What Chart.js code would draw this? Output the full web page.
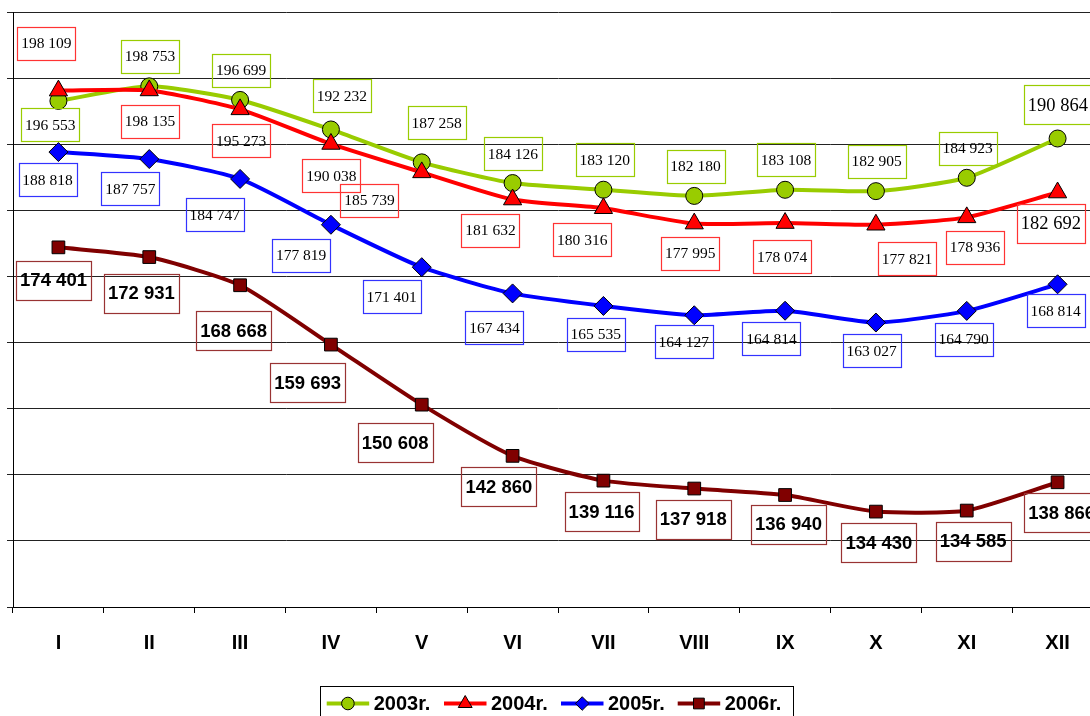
<!DOCTYPE html>
<html><head><meta charset="utf-8">
<script src="https://cdn.jsdelivr.net/npm/chart.js@4.4.1/dist/chart.umd.min.js"></script>
<style>
html,body{margin:0;padding:0;background:#fff;overflow:hidden;}
#wrap{width:1090px;height:716px;overflow:hidden;position:relative;}
#inner{width:1103px;height:716px;position:absolute;left:0;top:0;}
</style></head><body>
<div id="wrap"><div id="inner"><canvas id="c"></canvas></div></div>
<script>
// ---- data ----
const months = ['I','II','III','IV','V','VI','VII','VIII','IX','X','XI','XII'];
const seriesNames = ['2003r.','2004r.','2005r.','2006r.'];
const values2003 = [196553,198753,196699,192232,187258,184126,183120,182180,183108,182905,184923,190864];
const values2004 = [198109,198135,195273,190038,185739,181632,180316,177995,178074,177821,178936,182692];
const values2005 = [188818,187757,184747,177819,171401,167434,165535,164127,164814,163027,164790,168814];
const values2006 = [174401,172931,168668,159693,150608,142860,139116,137918,136940,134430,134585,138866];
const yMin = 120000, yMax = 210000, yStep = 10000;

// ---- styling / label placement (not data) ----
const lineColors = ['#99CC00','#FF0000','#0000FF','#800000'];
const boxColors  = ['#99CC00','#FF3333','#3333FF','#993333'];
const pointStyles = ['circle','triangle','rectRot','rect'];
const pointRadii = [8.5,10.5,9.5,9];
const legendRadii = [6.3,8,6.8,7.6];
const labelOffsets = [
  [[-8.2,24],[0.8,-30.2],[1,-29.7],[10.9,-34],[14.9,-39.75],[0.3,-29.4],[1.3,-29.8],[1.3,-29.55],[0.9,-29.9],[0.7,-29.8],[0.9,-29.7],[0.3,-33.6]],
  [[-12.1,-47.45],[0.8,30.7],[1,31.3],[0.5,31.7],[-52.3,28],[-22.1,30.6],[-21.2,31.3],[-4,29.75],[-3,33.5],[31.1,34.1],[8.3,29.8],[-6.7,30.5]],
  [[-10.9,27.4],[-18.9,29.55],[-25.3,35.6],[-29.8,30.3],[-30.1,29.3],[-18.1,34.2],[-7.7,28.1],[-10.5,26.7],[-13.6,28.2],[-4.3,28.4],[-3.1,28.2],[-1.9,26.3]],
  [[-4.9,32.8],[-7.9,36.2],[-6.5,45.5],[-23.3,37.85],[-26.6,37.8],[-13.7,31],[-1.9,30.8],[-1,30.6],[3.4,29.1],[2.9,31],[6.4,30.7],[4,30.3]]
];
const bigLabels = [[11],[11],[],[]];

function fmt(v){ return String(v).replace(/\B(?=(\d{3})+(?!\d))/g,' '); }

const allValues = [values2003, values2004, values2005, values2006];

const labelPlugin = {
  id:'boxLabels',
  afterDatasetsDraw(chart){
    const ctx = chart.ctx;
    ctx.save();
    chart.data.datasets.forEach((ds,di)=>{
      const meta = chart.getDatasetMeta(di);
      meta.data.forEach((pt,i)=>{
        const off = labelOffsets[di][i];
        const big = bigLabels[di].includes(i);
        const size = (di===3 || big) ? 18.5 : 15.5;
        ctx.font = di===3 ? `bold ${size}px "Liberation Sans", Arial, sans-serif`
                          : `${size}px "Liberation Serif", "Times New Roman", serif`;
        const text = fmt(ds.data[i]);
        const w = Math.round(ctx.measureText(text).width + 8);
        const h = Math.round(size*2.1);
        const cx = pt.x + off[0], cy = pt.y + off[1];
        ctx.strokeStyle = boxColors[di];
        ctx.lineWidth = 1.2;
        ctx.strokeRect(Math.round(cx - w/2)+0.5, Math.round(cy - h/2)+0.5, w, h);
        ctx.fillStyle = '#000';
        ctx.textAlign = 'center';
        ctx.textBaseline = 'middle';
        ctx.fillText(text, cx, cy + 1);
      });
    });
    ctx.restore();
  }
};

function drawMarker(ctx, style, r, x, y){
  if (Chart.helpers && Chart.helpers.drawPoint){
    Chart.helpers.drawPoint(ctx, {pointStyle: style, radius: r, rotation: 0, borderWidth: 1}, x, y);
    return;
  }
  ctx.beginPath();
  if (style==='circle'){ ctx.arc(x,y,r,0,Math.PI*2); }
  else if (style==='triangle'){ ctx.moveTo(x, y-r); ctx.lineTo(x+r*0.866, y+r/2); ctx.lineTo(x-r*0.866, y+r/2); ctx.closePath(); }
  else if (style==='rectRot'){ ctx.moveTo(x, y-r); ctx.lineTo(x+r, y); ctx.lineTo(x, y+r); ctx.lineTo(x-r, y); ctx.closePath(); }
  else { const s=r*Math.SQRT1_2; ctx.rect(x-s,y-s,2*s,2*s); }
  ctx.fill(); ctx.stroke();
}

const legendPlugin = {
  id:'boxLegend',
  afterDraw(chart){
    const ctx = chart.ctx;
    ctx.save();
    ctx.strokeStyle = '#000'; ctx.lineWidth = 1;
    ctx.strokeRect(320.5, 686.5, 473, 40);
    const starts = [326.7, 444, 561, 677.7];
    const ly = 703.5;
    seriesNames.forEach((name,i)=>{
      const x0 = starts[i];
      ctx.strokeStyle = lineColors[i]; ctx.lineWidth = 4;
      ctx.beginPath(); ctx.moveTo(x0, ly); ctx.lineTo(x0+42.5, ly); ctx.stroke();
      ctx.fillStyle = lineColors[i]; ctx.strokeStyle = '#000'; ctx.lineWidth = 1;
      drawMarker(ctx, pointStyles[i], legendRadii[i], x0+21.2, ly);
      ctx.fillStyle = '#000';
      ctx.font = 'bold 20px "Liberation Sans", Arial, sans-serif';
      ctx.textAlign = 'left'; ctx.textBaseline = 'middle';
      ctx.fillText(name, x0+47, ly+1);
    });
    ctx.restore();
  }
};

const datasets = allValues.map((vals,i)=>({
  label: seriesNames[i],
  data: vals,
  borderColor: lineColors[i],
  backgroundColor: lineColors[i],
  borderWidth: 4,
  pointStyle: pointStyles[i],
  pointRadius: pointRadii[i],
  pointHoverRadius: pointRadii[i],
  pointBackgroundColor: lineColors[i],
  pointBorderColor: '#000',
  pointBorderWidth: 1,
  tension: 0.2,
  fill: false,
  clip: false,
  order: 4 - i
}));

new Chart(document.getElementById('c'), {
  type: 'line',
  data: { labels: months, datasets },
  options: {
    responsive: true,
    maintainAspectRatio: false,
    animation: false,
    events: [],
    layout: { autoPadding: false, padding: { left: 7, top: 12, right: 0, bottom: 43 } },
    plugins: { legend: { display: false }, tooltip: { enabled: false } },
    scales: {
      x: {
        type: 'category',
        offset: true,
        grid: { offset: true, drawOnChartArea: false, drawTicks: true, tickLength: 6, color: '#000', lineWidth: 1 },
        border: { display: true, color: '#000', width: 1 },
        ticks: { padding: 18, autoSkip: false, maxRotation: 0, color: '#000',
                 font: { family: '"Liberation Sans", Arial, sans-serif', size: 20, weight: 'bold' } }
      },
      y: {
        min: yMin, max: yMax,
        ticks: { display: false, stepSize: yStep },
        grid: { color: '#222', lineWidth: 1, drawTicks: true, tickLength: 6 },
        border: { display: true, color: '#000', width: 1 }
      }
    }
  },
  plugins: [labelPlugin, legendPlugin]
});
</script>
</body></html>
